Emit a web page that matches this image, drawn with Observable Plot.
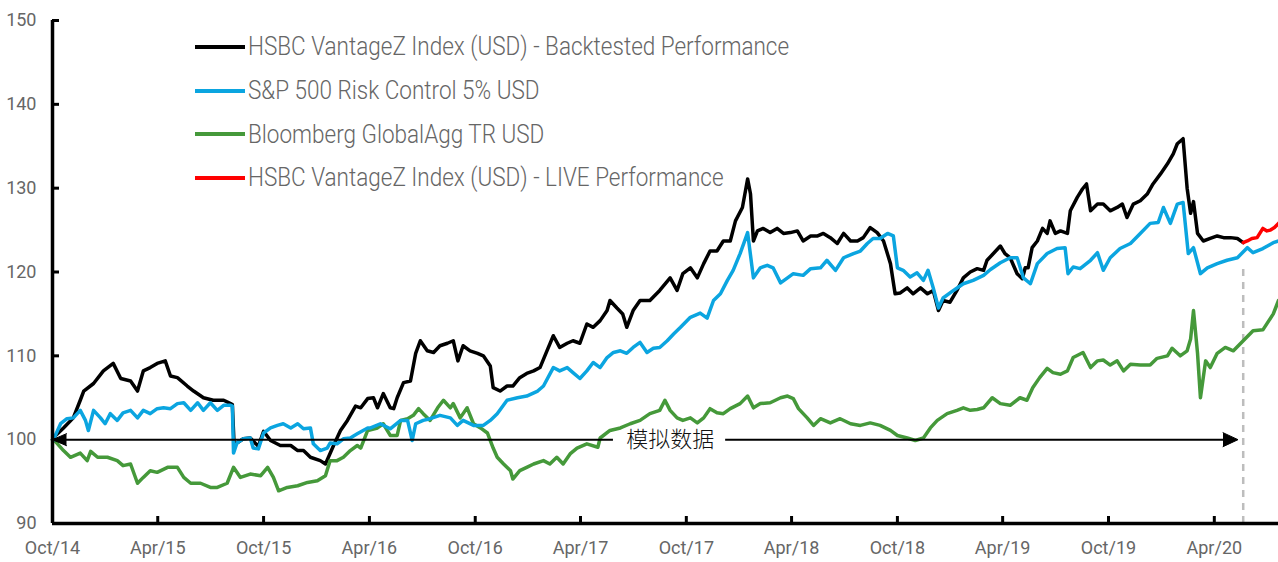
<!DOCTYPE html>
<html>
<head>
<meta charset="utf-8">
<script src="https://cdn.jsdelivr.net/npm/d3@7"></script>
<script src="https://cdn.jsdelivr.net/npm/@observablehq/plot@0.6"></script>
<style>
  html, body { margin: 0; padding: 0; background: #fff; }
  #wrap { position: relative; width: 1278px; height: 562px; font-family: Roboto, "Liberation Sans", sans-serif; }
  #legend { position: absolute; left: 195px; top: 25px; }
  .item { display: flex; align-items: center; height: 43.7px; }
  .sw { width: 50px; height: 4px; margin-right: 3px; flex: none; }
  .lab { font-size: 25px; font-weight: 300; color: #666; white-space: nowrap; display: inline-block;
         transform: scaleX(0.9); transform-origin: left center; }
</style>
</head>
<body>
<div id="wrap"></div>
<script>
// ---------- data ----------
const seriesNames = [
  "HSBC VantageZ Index (USD) - Backtested Performance",
  "S&P 500 Risk Control 5% USD",
  "Bloomberg GlobalAgg TR USD",
  "HSBC VantageZ Index (USD) - LIVE Performance"
];
const seriesColors = ["#000000", "#0BA5E0", "#45993A", "#FF0000"];

const backtested = [
["2014-10-01",100],["2014-10-02",100.2],["2014-10-20",101.4],["2014-11-06",102.6],["2014-11-18",104.7],["2014-11-24",105.8],
["2014-12-11",106.7],["2014-12-28",108.2],["2015-01-14",109.1],["2015-01-27",107.3],["2015-02-13",107],["2015-02-25",105.8],
["2015-03-07",108.2],["2015-03-19",108.6],["2015-03-31",109.1],["2015-04-14",109.4],["2015-04-23",107.6],["2015-05-05",107.4],
["2015-05-22",106.4],["2015-06-02",105.8],["2015-06-19",105],["2015-07-06",104.7],["2015-07-24",104.7],["2015-08-05",104.3],
["2015-08-08",104.2],["2015-08-11",99.4],["2015-08-16",99.6],["2015-08-27",100.1],["2015-09-08",100.2],["2015-09-22",99.2],
["2015-10-01",101],["2015-10-13",99.9],["2015-10-30",99.3],["2015-11-17",99.3],["2015-11-29",98.7],["2015-12-09",98.7],
["2015-12-21",97.9],["2016-01-07",97.5],["2016-01-16",97.1],["2016-01-30",99.3],["2016-02-11",101.1],["2016-02-23",102.3],
["2016-03-08",104],["2016-03-17",103.8],["2016-03-29",104.9],["2016-04-08",105],["2016-04-15",103.8],["2016-04-25",105.5],
["2016-05-07",103.8],["2016-05-13",103.7],["2016-05-19",105],["2016-05-30",106.8],["2016-06-11",107],["2016-06-20",110.3],
["2016-06-28",111.8],["2016-07-10",110.6],["2016-07-21",110.4],["2016-08-01",111.2],["2016-08-14",111.5],["2016-08-24",111.8],
["2016-09-01",109.4],["2016-09-10",111.2],["2016-09-22",110.6],["2016-10-05",110.3],["2016-10-15",110],["2016-10-27",108.8],
["2016-11-01",106.2],["2016-11-13",105.8],["2016-11-25",106.4],["2016-12-05",106.4],["2016-12-17",107.4],["2016-12-29",107.9],
["2017-01-10",108.2],["2017-01-21",108.6],["2017-02-02",110.6],["2017-02-13",112.4],["2017-02-24",111],["2017-03-09",111.5],
["2017-03-19",111.8],["2017-03-31",111.5],["2017-04-12",113.8],["2017-04-23",113.4],["2017-05-05",114.2],["2017-05-17",115.4],
["2017-05-22",116.6],["2017-06-03",115.7],["2017-06-13",115],["2017-06-20",113.4],["2017-07-01",115.4],["2017-07-13",116.6],
["2017-07-30",116.6],["2017-08-16",117.8],["2017-09-03",119.3],["2017-09-15",117.8],["2017-09-25",119.8],["2017-10-08",120.5],
["2017-10-20",119.3],["2017-10-31",121],["2017-11-11",122.5],["2017-11-23",122.5],["2017-12-04",123.7],["2017-12-16",123.7],
["2017-12-25",126.1],["2018-01-06",127.7],["2018-01-15",131.1],["2018-01-20",129.3],["2018-01-25",123.7],["2018-02-01",124.9],
["2018-02-11",125.2],["2018-02-23",124.7],["2018-03-07",125.2],["2018-03-18",124.6],["2018-03-30",124.7],["2018-04-11",124.9],
["2018-04-21",123.7],["2018-05-04",124.3],["2018-05-16",124.3],["2018-05-26",124.6],["2018-06-07",124.1],["2018-06-19",123.4],
["2018-06-30",124.6],["2018-07-12",123.7],["2018-07-24",123.7],["2018-08-03",124.1],["2018-08-15",125.3],["2018-08-27",124.7],
["2018-09-07",123.7],["2018-09-19",121],["2018-09-27",117.4],["2018-10-06",117.5],["2018-10-18",118.1],["2018-10-28",117.4],
["2018-11-10",118.1],["2018-11-22",117.4],["2018-12-02",117.8],["2018-12-11",115.4],["2018-12-19",116.6],["2018-12-31",116.4],
["2019-01-12",117.8],["2019-01-23",119.3],["2019-02-04",120],["2019-02-16",120.4],["2019-02-27",120.2],["2019-03-05",121.4],
["2019-03-16",122.2],["2019-03-28",123.1],["2019-04-05",122.2],["2019-04-14",121.7],["2019-04-26",119.8],["2019-05-05",119.2],
["2019-05-10",120.5],["2019-05-15",120.5],["2019-05-22",122.9],["2019-05-31",123.7],["2019-06-09",125.2],["2019-06-17",124.6],
["2019-06-22",126.1],["2019-07-01",124.6],["2019-07-10",124.9],["2019-07-22",124.6],["2019-07-27",127.3],["2019-08-08",128.9],
["2019-08-17",129.9],["2019-08-24",130.5],["2019-08-31",127.3],["2019-09-12",128.1],["2019-09-22",128.1],["2019-10-04",127.3],
["2019-10-16",127.7],["2019-10-25",128.1],["2019-11-02",126.5],["2019-11-13",128.1],["2019-11-25",128.5],["2019-12-07",129.3],
["2019-12-17",130.5],["2019-12-30",131.7],["2020-01-11",132.9],["2020-01-21",134.1],["2020-01-28",135.3],["2020-02-07",135.9],
["2020-02-14",130],["2020-02-20",127],["2020-02-25",128.4],["2020-03-03",124.6],["2020-03-13",123.7],["2020-03-25",124],
["2020-04-06",124.3],["2020-04-17",124.1],["2020-04-29",124.1],["2020-05-11",124],["2020-05-21",123.5]
];

const riskControl = [
["2014-10-01",100],["2014-10-02",99.9],["2014-10-15",101.9],["2014-10-26",102.5],["2014-11-06",102.6],["2014-11-18",103.5],
["2014-11-27",102.3],["2014-12-02",101.1],["2014-12-11",103.5],["2014-12-23",102.6],["2014-12-31",101.9],["2015-01-09",103.1],
["2015-01-21",102.3],["2015-01-31",103.2],["2015-02-13",103.5],["2015-02-25",102.6],["2015-03-07",103.5],["2015-03-19",103.1],
["2015-03-31",103.7],["2015-04-11",103.8],["2015-04-23",103.7],["2015-05-05",104.3],["2015-05-16",104.4],["2015-05-28",103.5],
["2015-06-09",104.4],["2015-06-19",103.5],["2015-07-01",104.4],["2015-07-13",103.5],["2015-07-24",104.1],["2015-08-05",104.1],
["2015-08-08",104],["2015-08-10",98.4],["2015-08-16",99.6],["2015-08-27",100.1],["2015-09-08",100.2],["2015-09-13",99],
["2015-09-22",98.9],["2015-10-01",100.8],["2015-10-13",101.4],["2015-10-25",101.7],["2015-11-04",101.9],["2015-11-17",101.4],
["2015-11-29",101.9],["2015-12-09",101.3],["2015-12-21",101.4],["2015-12-26",99.5],["2016-01-07",98.7],["2016-01-19",99],
["2016-01-24",99.6],["2016-02-05",99.5],["2016-02-16",100.1],["2016-02-28",100.2],["2016-03-11",100.7],["2016-03-29",101.4],
["2016-04-03",101.4],["2016-04-20",101.9],["2016-05-07",101.3],["2016-05-25",102.3],["2016-06-06",102.3],["2016-06-14",99.9],
["2016-06-20",101.9],["2016-07-03",102.3],["2016-07-15",102.5],["2016-08-01",102.9],["2016-08-19",102.6],["2016-08-31",101.7],
["2016-09-10",102.3],["2016-09-28",101.7],["2016-10-15",101.7],["2016-10-27",102.3],["2016-11-08",103.1],["2016-11-25",104.7],
["2016-12-13",105],["2016-12-29",105.2],["2017-01-17",105.8],["2017-01-27",106.4],["2017-02-13",108.6],["2017-02-24",108.2],
["2017-03-09",108.6],["2017-03-19",108],["2017-03-31",107.3],["2017-04-12",108.2],["2017-04-23",109.2],["2017-05-05",108.6],
["2017-05-17",109.8],["2017-05-28",110.4],["2017-06-09",110.6],["2017-06-20",110.3],["2017-07-01",111],["2017-07-13",111.6],
["2017-07-25",110.4],["2017-08-05",110.9],["2017-08-16",111],["2017-08-29",111.8],["2017-09-09",112.6],["2017-09-21",113.4],
["2017-10-08",114.6],["2017-10-25",115.1],["2017-11-06",114.5],["2017-11-17",116.6],["2017-11-29",117.4],["2017-12-11",119],
["2017-12-21",120.2],["2018-01-02",122.2],["2018-01-15",124.7],["2018-01-25",119.3],["2018-02-06",120.5],["2018-02-18",120.8],
["2018-02-28",120.5],["2018-03-13",118.7],["2018-03-25",119.3],["2018-04-04",119.8],["2018-04-21",119.6],["2018-05-04",120.4],
["2018-05-21",120.5],["2018-06-01",121.4],["2018-06-16",120.2],["2018-06-30",121.7],["2018-07-17",122.2],["2018-07-29",122.5],
["2018-08-10",123.4],["2018-08-20",124],["2018-09-01",124],["2018-09-14",124.6],["2018-09-24",124.3],["2018-10-01",120.5],
["2018-10-11",120.2],["2018-10-23",119.4],["2018-11-04",119.9],["2018-11-15",119],["2018-11-23",120.2],["2018-12-02",118.1],
["2018-12-11",115.7],["2018-12-19",116.9],["2019-01-06",117.8],["2019-01-23",118.6],["2019-02-09",119],["2019-02-27",119.6],
["2019-03-11",120.3],["2019-03-28",121.1],["2019-04-14",121.7],["2019-04-26",121.7],["2019-05-07",119.3],["2019-05-19",118.6],
["2019-05-31",121],["2019-06-17",122.2],["2019-07-04",122.8],["2019-07-18",122.9],["2019-07-23",119.8],["2019-08-01",120.6],
["2019-08-13",120.4],["2019-08-31",121.4],["2019-09-12",122.3],["2019-09-22",120.2],["2019-10-04",121.7],["2019-10-21",122.8],
["2019-11-08",123.4],["2019-11-25",124.6],["2019-12-12",125.8],["2019-12-26",125.9],["2020-01-04",127.7],["2020-01-16",125.8],
["2020-01-28",128.1],["2020-02-07",128.3],["2020-02-16",122.2],["2020-02-25",122.9],["2020-03-08",119.8],["2020-03-20",120.5],
["2020-04-06",121],["2020-04-23",121.4],["2020-05-11",121.7],["2020-05-28",122.9],["2020-06-07",122.3],["2020-06-24",122.8],
["2020-07-12",123.5],["2020-07-21",123.7]
];

const globalAgg = [
["2014-10-01",100],["2014-10-02",100.1],["2014-10-20",98.7],["2014-11-01",97.9],["2014-11-18",98.4],["2014-11-30",97.5],
["2014-12-06",98.6],["2014-12-18",97.9],["2015-01-04",97.9],["2015-01-21",97.5],["2015-01-31",96.9],["2015-02-13",97.1],
["2015-02-25",94.8],["2015-03-07",95.5],["2015-03-19",96.3],["2015-03-31",96.1],["2015-04-18",96.7],["2015-05-05",96.7],
["2015-05-16",95.5],["2015-05-28",94.8],["2015-06-14",94.8],["2015-07-01",94.3],["2015-07-13",94.3],["2015-07-30",94.8],
["2015-08-10",96.7],["2015-08-22",95.5],["2015-09-08",95.9],["2015-09-26",95.7],["2015-10-08",96.7],["2015-10-18",95.5],
["2015-10-27",93.9],["2015-11-11",94.3],["2015-11-29",94.5],["2015-12-16",94.9],["2016-01-02",95.1],["2016-01-16",95.7],
["2016-01-24",97.5],["2016-02-05",97.5],["2016-02-16",97.9],["2016-02-28",98.7],["2016-03-11",99.3],["2016-03-17",99],
["2016-03-29",101.1],["2016-04-15",101.4],["2016-04-25",101.9],["2016-05-07",100.5],["2016-05-19",100.5],["2016-05-25",102.3],
["2016-06-06",102.5],["2016-06-16",102.9],["2016-06-25",103.7],["2016-07-03",103.1],["2016-07-15",102.3],["2016-07-28",103.8],
["2016-08-07",104.7],["2016-08-19",103.8],["2016-08-24",104.3],["2016-09-05",102.6],["2016-09-17",103.8],["2016-09-28",101.9],
["2016-10-10",101.4],["2016-10-22",100.8],["2016-11-01",99],["2016-11-08",97.9],["2016-11-19",97.1],["2016-12-01",96.3],
["2016-12-05",95.3],["2016-12-17",96.3],["2016-12-29",96.7],["2017-01-10",97.1],["2017-01-27",97.5],["2017-02-07",97.1],
["2017-02-19",97.9],["2017-03-02",97.1],["2017-03-14",98.3],["2017-03-26",99],["2017-04-12",99.5],["2017-05-01",99.1],
["2017-05-05",100.2],["2017-05-22",101.1],["2017-06-09",101.4],["2017-06-26",101.9],["2017-07-13",102.3],["2017-07-30",103.1],
["2017-08-16",103.5],["2017-08-25",104.7],["2017-09-03",103.5],["2017-09-15",102.6],["2017-09-25",102.3],["2017-10-08",102.6],
["2017-10-20",102],["2017-10-31",102.6],["2017-11-11",103.7],["2017-11-23",103.2],["2017-12-04",103.1],["2017-12-16",103.7],
["2018-01-02",104.3],["2018-01-15",105.2],["2018-01-25",103.8],["2018-02-06",104.3],["2018-02-23",104.4],["2018-03-13",105],
["2018-03-25",105.2],["2018-04-04",104.9],["2018-04-13",103.7],["2018-04-28",102.6],["2018-05-09",101.7],["2018-05-21",102.5],
["2018-06-07",102],["2018-06-24",102.5],["2018-07-12",101.9],["2018-07-29",101.7],["2018-08-15",102],["2018-09-01",101.7],
["2018-09-19",101.1],["2018-10-01",100.5],["2018-10-18",100.2],["2018-11-01",99.9],["2018-11-15",100.2],["2018-11-27",101.4],
["2018-12-09",102.3],["2018-12-26",103.1],["2019-01-12",103.5],["2019-01-23",103.8],["2019-02-04",103.5],["2019-02-16",103.6],
["2019-02-27",103.8],["2019-03-14",105],["2019-03-28",104.3],["2019-04-14",104.1],["2019-05-01",105],["2019-05-13",104.7],
["2019-05-23",106.2],["2019-06-04",107.4],["2019-06-17",108.5],["2019-06-27",108],["2019-07-10",107.8],["2019-07-22",108.2],
["2019-08-01",109.8],["2019-08-18",110.4],["2019-08-31",108.6],["2019-09-12",109.4],["2019-09-22",109.5],["2019-10-04",108.9],
["2019-10-16",109.4],["2019-10-27",108.2],["2019-11-08",109],["2019-11-25",108.9],["2019-12-12",108.9],["2019-12-24",109.7],
["2020-01-11",110],["2020-01-19",110.9],["2020-02-02",110],["2020-02-14",110.6],["2020-02-20",112],["2020-02-25",115.4],
["2020-03-03",110.3],["2020-03-08",105],["2020-03-17",109.4],["2020-03-25",108.6],["2020-04-06",110.3],["2020-04-20",111],
["2020-05-04",110.6],["2020-05-21",111.8],["2020-06-07",113],["2020-06-24",113.1],["2020-07-12",115],["2020-07-21",116.6]
];

const live = [
["2020-05-21",123.5],["2020-05-28",123.7],["2020-06-05",124],["2020-06-14",124.1],["2020-06-24",125.2],["2020-07-01",124.9],
["2020-07-07",125],["2020-07-14",125.3],["2020-07-21",125.8]
];

const xTickDates = ["2014-10-01","2015-04-01","2015-10-01","2016-04-01","2016-10-01","2017-04-01","2017-10-01",
                    "2018-04-01","2018-10-01","2019-04-01","2019-10-01","2020-04-01"];
const yTickValues = [90, 100, 110, 120, 130, 140, 150];
const xDomain = ["2014-10-01", "2020-07-21"];
const annotationText = "模拟数据";
const simStart = "2014-10-01", simEnd = "2020-05-12";   // simulated-data period arrow
const textDate = "2017-09-03", gapStart = "2017-05-28", gapEnd = "2017-12-08";
const liveStart = "2020-05-21";

// ---------- build ----------
const P = s => new Date(s + "T00:00:00Z");
const toRows = (arr, name) => arr.map(([d, v]) => ({date: P(d), value: v, series: name}));
const rows = [
  ...toRows(backtested, seriesNames[0]),
  ...toRows(riskControl, seriesNames[1]),
  ...toRows(globalAgg, seriesNames[2]),
  ...toRows(live, seriesNames[3])
];
const bySeries = name => rows.filter(r => r.series === name);
const xTicks = xTickDates.map(P);
const fmt = d3.utcFormat("%b/%y");

const lineOpts = {x: "date", y: "value", stroke: "series", strokeWidth: 3.5, strokeLinejoin: "round", curve: "linear"};

const chart = Plot.plot({
  width: 1278,
  height: 562,
  marginTop: 20,
  marginBottom: 39,
  marginLeft: 52,
  marginRight: 0,
  style: {fontFamily: "Roboto, 'Liberation Sans', sans-serif", background: "#fff"},
  x: {type: "utc", domain: xDomain.map(P), label: null},
  y: {domain: [90, 150], label: null},
  color: {domain: seriesNames, range: seriesColors},
  marks: [
    Plot.axisX({ticks: xTicks, tickFormat: fmt, tickSize: 0, tickPadding: 18, fontSize: 18, color: "#666", label: null}),
    Plot.axisY({ticks: yTickValues, tickSize: 0, tickPadding: 16, fontSize: 18, color: "#666", label: null}),
    // dashed marker for start of live performance
    Plot.ruleX([P(liveStart)], {y1: 90, y2: 121, stroke: "#bdbdbd", strokeWidth: 2.5, strokeDasharray: "7,6"}),
    // series
    Plot.line(bySeries(seriesNames[0]), lineOpts),
    Plot.line(bySeries(seriesNames[2]), lineOpts),
    Plot.line(bySeries(seriesNames[1]), lineOpts),
    Plot.line(bySeries(seriesNames[3]), lineOpts),
    // simulated-data arrow
    Plot.ruleY([100], {x1: P(simStart), x2: P(gapStart), stroke: "black", strokeWidth: 2}),
    Plot.ruleY([100], {x1: P(gapEnd), x2: P(simEnd), stroke: "black", strokeWidth: 2, insetRight: 8}),
    Plot.vector([100], {x: () => P(simStart), y: d => d, rotate: -90, length: 14, r: 6, shape: "spike", anchor: "end", fill: "black", stroke: "black", strokeWidth: 1}),
    Plot.vector([100], {x: () => P(simEnd), y: d => d, rotate: 90, length: 15, r: 7, shape: "spike", anchor: "end", fill: "black", stroke: "black", strokeWidth: 1}),
    Plot.text([annotationText], {x: () => P(textDate), y: () => 100, text: d => d, fontSize: 22, fill: "#111",
      fontFamily: "'Noto Sans CJK SC', sans-serif", fontWeight: 300, textAnchor: "middle"}),
    // axis lines
    Plot.ruleY([90], {stroke: "black", strokeWidth: 3.5}),
    Plot.ruleX([P(xDomain[0])], {y1: 90, y2: 150, stroke: "black", strokeWidth: 3.5}),
    // inward tick marks
    Plot.ruleX(xTicks, {y1: 90, y2: 90, insetTop: -7, stroke: "black", strokeWidth: 3}),
    Plot.ruleY(yTickValues, {x1: P(xDomain[0]), x2: P(xDomain[0]), insetRight: -7, stroke: "black", strokeWidth: 3})
  ]
});

const wrap = document.getElementById("wrap");
wrap.appendChild(chart);

// legend
const legend = document.createElement("div");
legend.id = "legend";
seriesNames.forEach((name, i) => {
  const item = document.createElement("div");
  item.className = "item";
  const sw = document.createElement("div");
  sw.className = "sw";
  sw.style.background = seriesColors[i];
  const lab = document.createElement("span");
  lab.className = "lab";
  lab.textContent = name;
  item.appendChild(sw);
  item.appendChild(lab);
  legend.appendChild(item);
});
wrap.appendChild(legend);
</script>
</body>
</html>
